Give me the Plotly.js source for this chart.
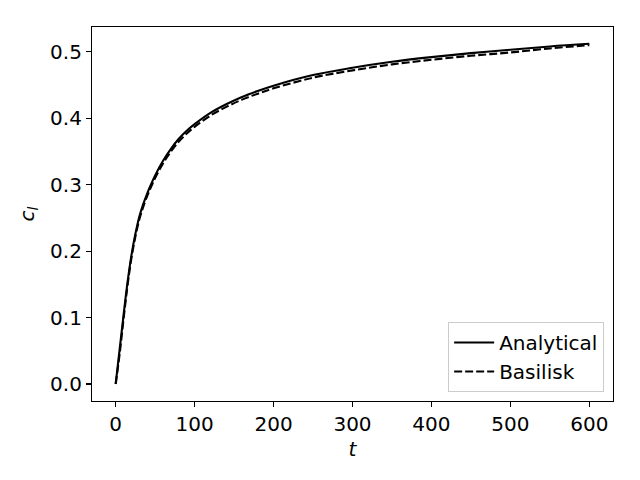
<!DOCTYPE html>
<html>
<head>
<meta charset="utf-8">
<script src="https://cdn.plot.ly/plotly-3.0.1.min.js"></script>
<style>html,body{margin:0;padding:0;background:#fff;}#chart{width:640px;height:480px;}</style>
</head>
<body>
<div id="chart"></div>
<script>
const tValues = [0, 5, 10, 15, 20, 25, 30, 35, 40, 45, 50, 60, 70, 80, 90, 100, 120, 140, 160, 180, 200, 250, 300, 350, 400, 450, 500, 550, 600];
const analytical = [0.000, 0.052, 0.104, 0.153, 0.194, 0.226, 0.252, 0.271, 0.287, 0.301, 0.314, 0.336, 0.354, 0.369, 0.381, 0.391, 0.408, 0.421, 0.432, 0.441, 0.449, 0.465, 0.476, 0.485, 0.492, 0.498, 0.503, 0.508, 0.512];
const basilisk = [0.000, 0.045, 0.098, 0.148, 0.190, 0.222, 0.248, 0.267, 0.283, 0.297, 0.310, 0.332, 0.350, 0.365, 0.377, 0.387, 0.404, 0.417, 0.428, 0.437, 0.445, 0.461, 0.472, 0.481, 0.488, 0.494, 0.499, 0.505, 0.510];
const xTicks = [0, 100, 200, 300, 400, 500, 600];
const yTicks = [0.0, 0.1, 0.2, 0.3, 0.4, 0.5];
const seriesNames = ["Analytical", "Basilisk"];

const font = {family: "DejaVu Sans", size: 20, color: "#000"};
const traces = [
  {x: tValues, y: analytical, name: seriesNames[0], mode: "lines", line: {color: "#000", width: 2.1, shape: "spline", smoothing: 1}},
  {x: tValues, y: basilisk, name: seriesNames[1], mode: "lines", line: {color: "#000", width: 2.1, dash: "8px,3px", shape: "spline", smoothing: 1}}
];
const axisCommon = {
  showline: true, linecolor: "#000", linewidth: 1.1, mirror: true,
  ticks: "outside", ticklen: 5, tickwidth: 1.1, tickcolor: "#000",
  showgrid: false, zeroline: false, tickfont: font
};
const layout = {
  width: 640, height: 480,
  margin: {l: 92, r: 27, t: 27, b: 79},
  paper_bgcolor: "#fff", plot_bgcolor: "#fff",
  font: font,
  showlegend: true,
  legend: {
    x: 0.983, y: 0.024, xanchor: "right", yanchor: "bottom",
    bordercolor: "#cccccc", borderwidth: 1, bgcolor: "rgba(255,255,255,0.8)",
    itemwidth: 40,
    font: {family: "DejaVu Sans", size: 20, color: "#000"}
  },
  xaxis: Object.assign({}, axisCommon, {
    range: [-30, 630], tickvals: xTicks, ticktext: xTicks.map(String),
    title: {text: "<i>t</i>", font: font, standoff: 6}
  }),
  yaxis: Object.assign({}, axisCommon, {
    range: [-0.0256, 0.5373], tickvals: yTicks, ticktext: yTicks.map(v => v.toFixed(1)),
    title: {text: "<i>c</i><sub><i>l</i></sub>", font: font, standoff: 10}
  })
};
Plotly.newPlot("chart", traces, layout, {displayModeBar: false, staticPlot: true});
</script>
</body>
</html>
